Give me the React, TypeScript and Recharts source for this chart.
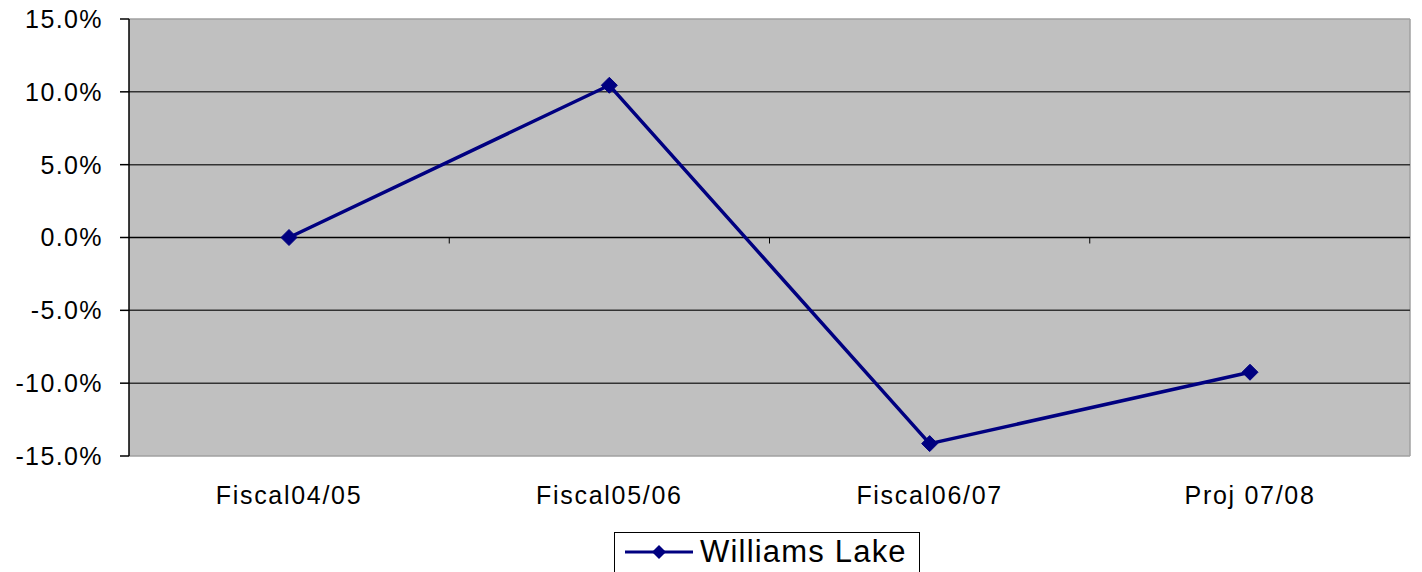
import React from "react";
import {
  LineChart,
  Line,
  XAxis,
  YAxis,
  CartesianGrid,
  ReferenceLine,
  Legend,
} from "recharts";

const categories = ["Fiscal04/05", "Fiscal05/06", "Fiscal06/07", "Proj 07/08"];
const williamsLake = [0.0, 10.45, -14.15, -9.25];
const yTicks = [-15, -10, -5, 0, 5, 10, 15];
const innerGrid = [10, 5, -5, -10];
const seriesName = "Williams Lake";

const data = categories.map((c, i) => ({ name: c, value: williamsLake[i] }));

const FONT = '"Liberation Sans", Arial, sans-serif';
const NAVY = "#000080";

const Diamond = (props: any) => {
  const { cx, cy } = props;
  if (cx == null || cy == null) return null;
  const r = 8;
  return (
    <path
      d={`M${cx},${cy - r}L${cx + r},${cy}L${cx},${cy + r}L${cx - r},${cy}Z`}
      fill={NAVY}
      stroke={NAVY}
    />
  );
};

// small tick marks at category boundaries on the zero line
const ZeroTicks = (props: any) => {
  const vb = props.viewBox || {};
  const { x, y, width } = vb;
  if (x == null) return null;
  const step = width / categories.length;
  return (
    <g>
      {categories.slice(1).map((_, i) => (
        <line
          key={i}
          x1={x + step * (i + 1)}
          x2={x + step * (i + 1)}
          y1={y}
          y2={y + 6}
          stroke="#000"
          strokeWidth={1}
        />
      ))}
    </g>
  );
};

const LegendBox = () => (
  <div
    style={{
      border: "1px solid #000",
      background: "#fff",
      display: "flex",
      alignItems: "center",
      height: 44,
      boxSizing: "border-box",
      padding: "0 8px 4px 9px",
      fontFamily: FONT,
      fontSize: 31,
      letterSpacing: 1.2,
      color: "#000",
      whiteSpace: "nowrap",
    }}
  >
    <svg width={70} height={20} style={{ marginRight: 6 }}>
      <line x1={1} x2={69} y1={10} y2={10} stroke={NAVY} strokeWidth={3} />
      <path d="M35,3L42,10L35,17L28,10Z" fill={NAVY} />
    </svg>
    <span>{seriesName}</span>
  </div>
);

export default function App() {
  return (
    <div style={{ position: "absolute", left: 0, top: 0 }}>
      <LineChart
        width={1422}
        height={572}
        data={data}
        margin={{ top: 19, right: 12, bottom: 56, left: 8 }}
      >
        {/* plot background with grey frame on top, right and bottom */}
        <CartesianGrid
          fill="#c0c0c0"
          fillOpacity={1}
          stroke="#a0a0a0"
          strokeWidth={1.5}
          horizontalCoordinatesGenerator={({ offset }: any) => [
            offset.top,
            offset.top + offset.height,
          ]}
          verticalCoordinatesGenerator={({ offset }: any) => [
            offset.left + offset.width,
          ]}
        />
        {innerGrid.map((v) => (
          <ReferenceLine key={v} y={v} stroke="#333" strokeWidth={1.5} />
        ))}
        <ReferenceLine
          y={0}
          stroke="#000"
          strokeWidth={1.5}
          label={(p: any) => <ZeroTicks {...p} />}
        />
        <XAxis
          dataKey="name"
          height={60}
          padding={{ left: 160, right: 160 }}
          axisLine={false}
          tickLine={false}
          tickSize={0}
          tickMargin={30}
          interval={0}
          tick={{ fill: "#000", fontSize: 25, fontFamily: FONT, letterSpacing: 1.7 }}
        />
        <YAxis
          width={121}
          domain={[-15, 15]}
          ticks={yTicks}
          interval={0}
          allowDataOverflow
          tickFormatter={(v: number) => `${v.toFixed(1)}%`}
          axisLine={{ stroke: "#000", strokeWidth: 1.5 }}
          tickLine={{ stroke: "#000", strokeWidth: 1.5 }}
          tickSize={9}
          tickMargin={17}
          tick={{ fill: "#000", fontSize: 25, fontFamily: FONT, letterSpacing: 1.4 }}
        />
        <Legend
          verticalAlign="middle"
          align="center"
          wrapperStyle={{ top: 532, left: 614, width: 306 }}
          content={() => <LegendBox />}
        />
        <Line
          type="linear"
          dataKey="value"
          name={seriesName}
          stroke={NAVY}
          strokeWidth={3.5}
          dot={<Diamond />}
          activeDot={false}
          isAnimationActive={false}
        />
      </LineChart>
    </div>
  );
}
